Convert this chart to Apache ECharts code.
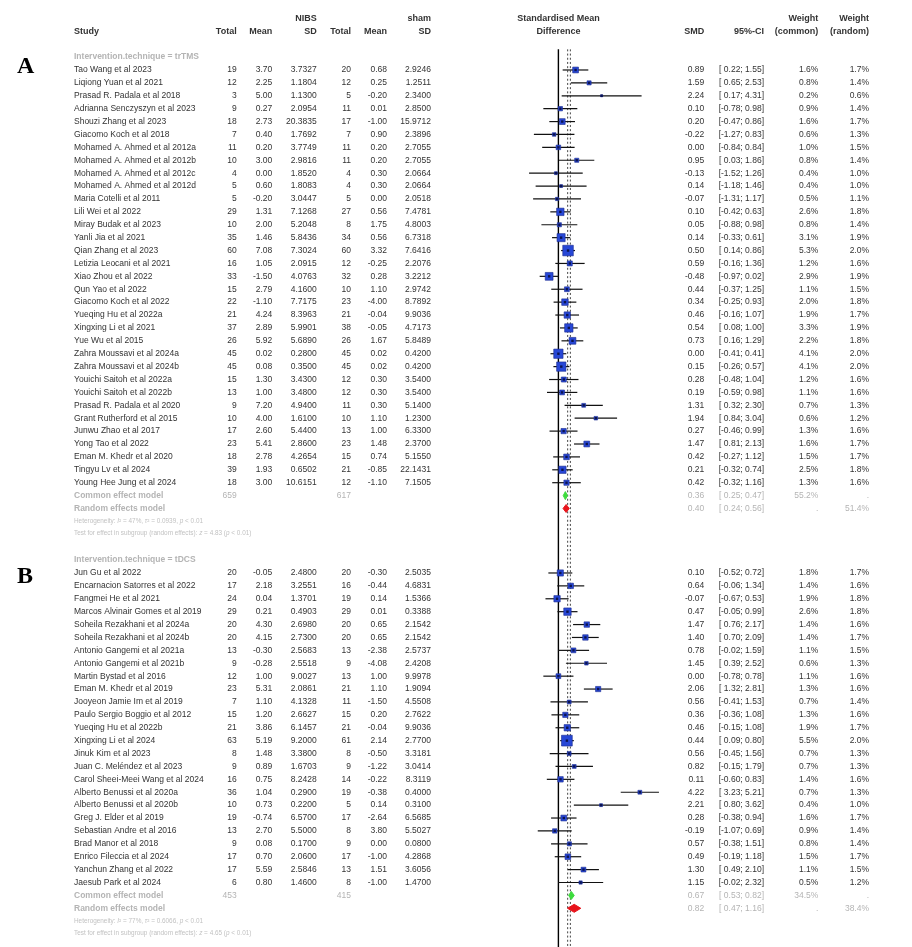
<!DOCTYPE html>
<html><head><meta charset="utf-8">
<script src="https://cdn.jsdelivr.net/npm/echarts@6/dist/echarts.min.js"></script>
<style>html,body{margin:0;padding:0;background:#fff}#c{width:912px;height:947px}</style>
</head><body><div id="c"></div>
<script>
// ---------------- DATA ----------------
const headerTop    = ['', '', '', 'NIBS', '', '', 'sham', 'Standardised Mean', '', '', 'Weight', 'Weight'];
const headerBottom = ['Study','Total','Mean','SD','Total','Mean','SD','Difference','SMD','95%-CI','(common)','(random)'];
const panelLabels = ['A','B'];
const subgroupLabels = ['Intervention.technique = trTMS','Intervention.technique = tDCS'];
const modelLabels = ['Common effect model','Random effects model'];

// Subgroup A: trTMS
const studiesA = ['Tao Wang et al 2023','Liqiong Yuan et al 2021','Prasad R. Padala et al 2018','Adrianna Senczyszyn et al 2023','Shouzi Zhang et al 2023','Giacomo Koch et al 2018','Mohamed A. Ahmed et al 2012a','Mohamed A. Ahmed et al 2012b','Mohamed A. Ahmed et al 2012c','Mohamed A. Ahmed et al 2012d','Maria Cotelli et al 2011','Lili Wei et al 2022','Miray Budak et al 2023','Yanli Jia et al 2021','Qian Zhang et al 2023','Letizia Leocani et al 2021','Xiao Zhou et al 2022','Qun Yao et al 2022','Giacomo Koch et al 2022','Yueqing Hu et al 2022a','Xingxing Li et al 2021','Yue Wu et al 2015','Zahra Moussavi et al 2024a','Zahra Moussavi et al 2024b','Youichi Saitoh et al 2022a','Youichi Saitoh et al 2022b','Prasad R. Padala et al 2020','Grant Rutherford et al 2015','Junwu Zhao et al 2017','Yong Tao et al 2022','Eman M. Khedr et al 2020','Tingyu Lv et al 2024','Young Hee Jung et al 2024'];
const nibsTotalA = [19,12,3,9,18,7,11,10,4,5,5,29,10,35,60,16,33,15,22,21,37,26,45,45,15,13,9,10,17,23,18,39,18];
const nibsMeanA = [3.70,2.25,5.00,0.27,2.73,0.40,0.20,3.00,0.00,0.60,-0.20,1.31,2.00,1.46,7.08,1.05,-1.50,2.79,-1.10,4.24,2.89,5.92,0.02,0.08,1.30,1.00,7.20,4.00,2.60,5.41,2.78,1.93,3.00];
const nibsSDA = [3.7327,1.1804,1.1300,2.0954,20.3835,1.7692,3.7749,2.9816,1.8520,1.8083,3.0447,7.1268,5.2048,5.8436,7.3024,2.0915,4.0763,4.1600,7.7175,8.3963,5.9901,5.6890,0.2800,0.3500,3.4300,3.4800,4.9400,1.6100,5.4400,2.8600,4.2654,0.6502,10.6151];
const shamTotalA = [20,12,5,11,17,7,11,11,4,4,5,27,8,34,60,12,32,10,23,21,38,26,45,45,12,12,11,10,13,23,15,21,12];
const shamMeanA = [0.68,0.25,-0.20,0.01,-1.00,0.90,0.20,0.20,0.30,0.30,0.00,0.56,1.75,0.56,3.32,-0.25,0.28,1.10,-4.00,-0.04,-0.05,1.67,0.02,0.02,0.30,0.30,0.30,1.10,1.00,1.48,0.74,-0.85,-1.10];
const shamSDA = [2.9246,1.2511,2.3400,2.8500,15.9712,2.3896,2.7055,2.7055,2.0664,2.0664,2.0518,7.4781,4.8003,6.7318,7.6416,2.2076,3.2212,2.9742,8.7892,9.9036,4.7173,5.8489,0.4200,0.4200,3.5400,3.5400,5.1400,1.2300,6.3300,2.3700,5.1550,22.1431,7.1505];
const smdA = [0.89,1.59,2.24,0.10,0.20,-0.22,0.00,0.95,-0.13,0.14,-0.07,0.10,0.05,0.14,0.50,0.59,-0.48,0.44,0.34,0.46,0.54,0.73,0.00,0.15,0.28,0.19,1.31,1.94,0.27,1.47,0.42,0.21,0.42];
const ciLowA = [0.22,0.65,0.17,-0.78,-0.47,-1.27,-0.84,0.03,-1.52,-1.18,-1.31,-0.42,-0.88,-0.33,0.14,-0.16,-0.97,-0.37,-0.25,-0.16,0.08,0.16,-0.41,-0.26,-0.48,-0.59,0.32,0.84,-0.46,0.81,-0.27,-0.32,-0.32];
const ciHighA = [1.55,2.53,4.31,0.98,0.86,0.83,0.84,1.86,1.26,1.46,1.17,0.63,0.98,0.61,0.86,1.36,0.02,1.25,0.93,1.07,1.00,1.29,0.41,0.57,1.04,0.98,2.30,3.04,0.99,2.13,1.12,0.74,1.16];
const weightCommonA = [1.6,0.8,0.2,0.9,1.6,0.6,1.0,0.8,0.4,0.4,0.5,2.6,0.8,3.1,5.3,1.2,2.9,1.1,2.0,1.9,3.3,2.2,4.1,4.1,1.2,1.1,0.7,0.6,1.3,1.6,1.5,2.5,1.3];
const weightRandomA = [1.7,1.4,0.6,1.4,1.7,1.3,1.5,1.4,1.0,1.0,1.1,1.8,1.4,1.9,2.0,1.6,1.9,1.5,1.8,1.7,1.9,1.8,2.0,2.0,1.6,1.6,1.3,1.2,1.6,1.7,1.7,1.8,1.6];
const totalsA = [659, 617];
const commonA = [0.36, 0.25, 0.47, 55.2];
const randomA = [0.40, 0.24, 0.56, 51.4];
const hetA = ['47%', '0.0939', '0.01', '4.83'];

// Subgroup B: tDCS
const studiesB = ['Jun Gu et al 2022','Encarnacion Satorres et al 2022','Fangmei He et al 2021','Marcos Alvinair Gomes et al 2019','Soheila Rezakhani et al 2024a','Soheila Rezakhani et al 2024b','Antonio Gangemi et al 2021a','Antonio Gangemi et al 2021b','Martin Bystad et al 2016','Eman M. Khedr et al 2019','Jooyeon Jamie Im et al 2019','Paulo Sergio Boggio et al 2012','Yueqing Hu et al 2022b','Xingxing Li et al 2024','Jinuk Kim et al 2023','Juan C. Meléndez et al 2023','Carol Sheei-Meei Wang et al 2024','Alberto Benussi et al 2020a','Alberto Benussi et al 2020b','Greg J. Elder et al 2019','Sebastian Andre et al 2016','Brad Manor et al 2018','Enrico Fileccia et al 2024','Yanchun Zhang et al 2022','Jaesub Park et al 2024'];
const nibsTotalB = [20,17,24,29,20,20,13,9,12,23,7,15,21,63,8,9,16,36,10,19,13,9,17,17,6];
const nibsMeanB = [-0.05,2.18,0.04,0.21,4.30,4.15,-0.30,-0.28,1.00,5.31,1.10,1.20,3.86,5.19,1.48,0.89,0.75,1.04,0.73,-0.74,2.70,0.08,0.70,5.59,0.80];
const nibsSDB = [2.4800,3.2551,1.3701,0.4903,2.6980,2.7300,2.5683,2.5518,9.0027,2.0861,4.1328,2.6627,6.1457,9.2000,3.3800,1.6703,8.2428,0.2900,0.2200,6.5700,5.5000,0.1700,2.0600,2.5846,1.4600];
const shamTotalB = [20,16,19,29,20,20,13,9,13,21,11,15,21,61,8,9,14,19,5,17,8,9,17,13,8];
const shamMeanB = [-0.30,-0.44,0.14,0.01,0.65,0.65,-2.38,-4.08,1.00,1.10,-1.50,0.20,-0.04,2.14,-0.50,-1.22,-0.22,-0.38,0.14,-2.64,3.80,0.00,-1.00,1.51,-1.00];
const shamSDB = [2.5035,4.6831,1.5366,0.3388,2.1542,2.1542,2.5737,2.4208,9.9978,1.9094,4.5508,2.7622,9.9036,2.7700,3.3181,3.0414,8.3119,0.4000,0.3100,6.5685,5.5027,0.0800,4.2868,3.6056,1.4700];
const smdB = [0.10,0.64,-0.07,0.47,1.47,1.40,0.78,1.45,0.00,2.06,0.56,0.36,0.46,0.44,0.56,0.82,0.11,4.22,2.21,0.28,-0.19,0.57,0.49,1.30,1.15];
const ciLowB = [-0.52,-0.06,-0.67,-0.05,0.76,0.70,-0.02,0.39,-0.78,1.32,-0.41,-0.36,-0.15,0.09,-0.45,-0.15,-0.60,3.23,0.80,-0.38,-1.07,-0.38,-0.19,0.49,-0.02];
const ciHighB = [0.72,1.34,0.53,0.99,2.17,2.09,1.59,2.52,0.78,2.81,1.53,1.08,1.08,0.80,1.56,1.79,0.83,5.21,3.62,0.94,0.69,1.51,1.18,2.10,2.32];
const weightCommonB = [1.8,1.4,1.9,2.6,1.4,1.4,1.1,0.6,1.1,1.3,0.7,1.3,1.9,5.5,0.7,0.7,1.4,0.7,0.4,1.6,0.9,0.8,1.5,1.1,0.5];
const weightRandomB = [1.7,1.6,1.8,1.8,1.6,1.7,1.5,1.3,1.6,1.6,1.4,1.6,1.7,2.0,1.3,1.3,1.6,1.3,1.0,1.7,1.4,1.4,1.7,1.5,1.2];
const totalsB = [453, 415];
const commonB = [0.67, 0.53, 0.82, 34.5];
const randomB = [0.82, 0.47, 1.16, 38.4];
const hetB = ['77%', '0.6066', '0.01', '4.65'];

// overall pooled reference lines (common, random)
const overallEffects = [0.48, 0.62];

// ---------------- LAYOUT ----------------
const ROW0_Y = 70, ROW_H = 12.9, YMIN = -5, YMAX = 68, LINE_TOP_ROW = -1.6;
const gridTop = ROW0_Y + YMIN * ROW_H;
const gridH = (YMAX - YMIN) * ROW_H;
const colKeys = ['study','n1','m1','sd1','n2','m2','sd2','head','smd','ci','wc','wr'];
const colX    = [74, 236.7, 272.3, 316.7, 351, 387, 431, 558.4, 704.3, 764, 818.3, 869];
const colAlign= ['left','right','right','right','right','right','right','center','right','right','right','right'];
const FONT = '"Liberation Sans", Arial, Helvetica, sans-serif';
const DARK = '#333333', GRAY = '#b4b4b4', LIGHT = '#c2c2c2';
const STY = {
  head: {fill: DARK, font: 'bold 9px ' + FONT},
  body: {fill: DARK, font: '8.5px ' + FONT},
  sub:  {fill: GRAY, font: 'bold 8.5px ' + FONT},
  gb:   {fill: GRAY, font: 'bold 8.5px ' + FONT},
  g:    {fill: GRAY, font: '8.5px ' + FONT},
  small:{fill: LIGHT, font: '6.4px ' + FONT,
         rich: {i: {fontStyle: 'italic', fontSize: 6.4, fontFamily: FONT, fill: LIGHT, color: LIGHT}}}
};

const items = {}; colKeys.forEach(k => items[k] = []);
colKeys.forEach((k, i) => {
  if (headerTop[i]) items[k].push([-4, headerTop[i], 'head']);
  if (headerBottom[i]) items[k].push([-3, headerBottom[i], 'head']);
});
const f2 = v => v.toFixed(2);
const fci = (lo, hi) => '[' + (lo >= 0 ? ' ' : '') + lo.toFixed(2) + '; ' + hi.toFixed(2) + ']';

const forestStudies = [], forestDiamonds = [];
function addSection(sub, base, names, n1, m1, sd1, n2, m2, sd2, smd, lo, hi, wc, wr, totals, com, ran, het) {
  items.study.push([base - 1, sub, 'sub']);
  names.forEach((name, i) => {
    const r = base + i;
    items.study.push([r, name, 'body']);
    items.n1.push([r, String(n1[i]), 'body']);
    items.m1.push([r, f2(m1[i]), 'body']);
    items.sd1.push([r, sd1[i].toFixed(4), 'body']);
    items.n2.push([r, String(n2[i]), 'body']);
    items.m2.push([r, f2(m2[i]), 'body']);
    items.sd2.push([r, sd2[i].toFixed(4), 'body']);
    items.smd.push([r, f2(smd[i]), 'body']);
    items.ci.push([r, fci(lo[i], hi[i]), 'body']);
    items.wc.push([r, wc[i].toFixed(1) + '%', 'body']);
    items.wr.push([r, wr[i].toFixed(1) + '%', 'body']);
    forestStudies.push([smd[i], lo[i], hi[i], wc[i], r]);
  });
  const rc = base + names.length, rr = rc + 1;
  items.study.push([rc, modelLabels[0], 'gb']);
  items.n1.push([rc, String(totals[0]), 'g']);
  items.n2.push([rc, String(totals[1]), 'g']);
  items.smd.push([rc, f2(com[0]), 'g']);
  items.ci.push([rc, fci(com[1], com[2]), 'g']);
  items.wc.push([rc, com[3].toFixed(1) + '%', 'g']);
  items.wr.push([rc, '.', 'g']);
  items.study.push([rr, modelLabels[1], 'gb']);
  items.smd.push([rr, f2(ran[0]), 'g']);
  items.ci.push([rr, fci(ran[1], ran[2]), 'g']);
  items.wc.push([rr, '.', 'g']);
  items.wr.push([rr, ran[3].toFixed(1) + '%', 'g']);
  items.study.push([rr + 1, 'Heterogeneity: {i|I}² = ' + het[0] + ', {i|τ}² = ' + het[1] + ', {i|p} < ' + het[2], 'small']);
  items.study.push([rr + 1.9, 'Test for effect in subgroup (random effects): {i|z} = ' + het[3] + ' ({i|p} < ' + het[2] + ')', 'small']);
  forestDiamonds.push([com[0], com[1], com[2], rc, 0]);
  forestDiamonds.push([ran[0], ran[1], ran[2], rr, 1]);
}
addSection(subgroupLabels[0], 0, studiesA, nibsTotalA, nibsMeanA, nibsSDA, shamTotalA, shamMeanA, shamSDA,
  smdA, ciLowA, ciHighA, weightCommonA, weightRandomA, totalsA, commonA, randomA, hetA);
addSection(subgroupLabels[1], 39, studiesB, nibsTotalB, nibsMeanB, nibsSDB, shamTotalB, shamMeanB, shamSDB,
  smdB, ciLowB, ciHighB, weightCommonB, weightRandomB, totalsB, commonB, randomB, hetB);

const grids = [], xAxes = [], yAxes = [], series = [];
function addGrid(left, width, xmin, xmax) {
  const i = grids.length;
  grids.push({left: left, top: gridTop, width: width, height: gridH});
  xAxes.push({type: 'value', gridIndex: i, min: xmin, max: xmax, show: false});
  yAxes.push({type: 'value', gridIndex: i, min: YMIN, max: YMAX, inverse: true, show: false});
  return i;
}

// forest plot grid
const FX_MIN = -6, FX_MAX = 6, PX_PER_UNIT = 19.3;
const fg = addGrid(colX[7] + FX_MIN * PX_PER_UNIT, (FX_MAX - FX_MIN) * PX_PER_UNIT, FX_MIN, FX_MAX);
series.push({type: 'line', xAxisIndex: fg, yAxisIndex: fg, symbol: 'none', silent: true, z: 1,
  data: [[0, LINE_TOP_ROW], [0, YMAX]], lineStyle: {color: '#000', width: 1.4}});
overallEffects.forEach(v => series.push({type: 'line', xAxisIndex: fg, yAxisIndex: fg, symbol: 'none', silent: true, z: 1,
  data: [[v, LINE_TOP_ROW], [v, YMAX]], lineStyle: {color: '#444', width: 1, type: [2, 2.2]}}));
series.push({type: 'custom', xAxisIndex: fg, yAxisIndex: fg, silent: true, clip: false, z: 3,
  data: forestStudies,
  renderItem: function (params, api) {
    const y = api.value(4);
    const pc = api.coord([api.value(0), y]);
    const pl = api.coord([api.value(1), y]);
    const pu = api.coord([api.value(2), y]);
    const s = Math.max(2, 4.6 * Math.sqrt(api.value(3)));
    return {type: 'group', children: [
      {type: 'line', shape: {x1: pl[0], y1: pc[1], x2: pu[0], y2: pc[1]}, style: {stroke: '#111', lineWidth: 1.2}},
      {type: 'rect', shape: {x: pc[0] - s / 2, y: pc[1] - s / 2, width: s, height: s}, style: {fill: '#2747d6', stroke: '#1b2c8e', lineWidth: 0.6}},
      {type: 'rect', shape: {x: pc[0] - 1.2, y: pc[1] - 1.2, width: 2.4, height: 2.4}, style: {fill: '#0c1450'}}
    ]};
  }});
series.push({type: 'custom', xAxisIndex: fg, yAxisIndex: fg, silent: true, clip: false, z: 4,
  data: forestDiamonds,
  renderItem: function (params, api) {
    const y = api.value(3);
    const pc = api.coord([api.value(0), y]);
    const pl = api.coord([api.value(1), y]);
    const pu = api.coord([api.value(2), y]);
    const col = api.value(4) === 0 ? '#3ddc3d' : '#e8141c';
    const h = 4;
    return {type: 'polygon', shape: {points: [[pl[0], pc[1]], [pc[0], pc[1] - h], [pu[0], pc[1]], [pc[0], pc[1] + h]]},
      style: {fill: col, stroke: col, lineWidth: 1}};
  }});

// text columns
colKeys.forEach((k, ci) => {
  const list = items[k];
  const align = colAlign[ci];
  const gi = addGrid(colX[ci], 1, 0, 1);
  series.push({type: 'custom', xAxisIndex: gi, yAxisIndex: gi, silent: true, clip: false, z: 5,
    data: list.map(it => [0, it[0]]),
    renderItem: function (params, api) {
      const it = list[params.dataIndex];
      const p = api.coord([0, it[0]]);
      const st = STY[it[2]];
      const style = {text: it[1], fill: st.fill, font: st.font, align: align, verticalAlign: 'middle',
        textAlign: align, textVerticalAlign: 'middle'};
      if (st.rich) style.rich = st.rich;
      return {type: 'text', x: p[0], y: p[1], style: style};
    }});
});

const chart = echarts.init(document.getElementById('c'), null, {renderer: 'canvas'});
chart.setOption({
  animation: false,
  backgroundColor: '#fff',
  grid: grids, xAxis: xAxes, yAxis: yAxes, series: series,
  graphic: [
    {type: 'text', left: 17, top: 55, style: {text: panelLabels[0], font: 'bold 24px "Liberation Serif", "Times New Roman", serif', fill: '#000'}},
    {type: 'text', left: 17, top: 565, style: {text: panelLabels[1], font: 'bold 24px "Liberation Serif", "Times New Roman", serif', fill: '#000'}}
  ]
});
</script>
</body></html>
